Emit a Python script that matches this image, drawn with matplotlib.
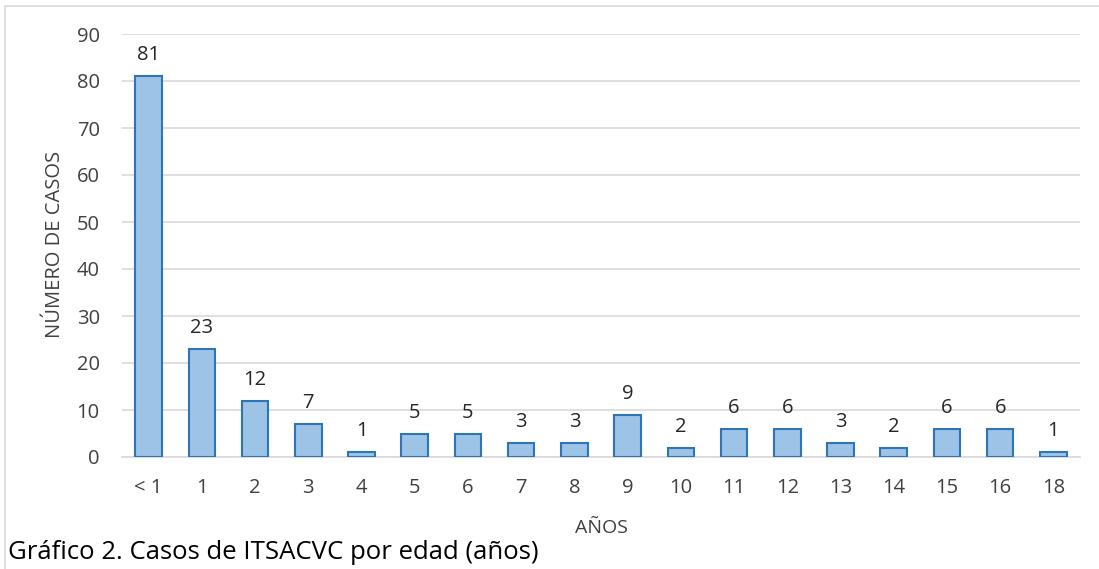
import matplotlib
matplotlib.use("Agg")
import numpy as np
import matplotlib.pyplot as plt
from matplotlib.patches import Rectangle

edades = ["< 1", "1", "2", "3", "4", "5", "6", "7", "8", "9",
          "10", "11", "12", "13", "14", "15", "16", "18"]
casos = [81, 23, 12, 7, 1, 5, 5, 3, 3, 9, 2, 6, 6, 3, 2, 6, 6, 1]

plt.rcParams["font.family"] = ["Open Sans", "DejaVu Sans"]

W, H = 1099, 569
fig = plt.figure(figsize=(W / 100, H / 100), dpi=100)
ax = fig.add_axes([122 / W, 1 - 457 / H, (1080 - 122) / W, (457 - 34) / H])

# marco del gráfico
fig.patches.append(Rectangle((5 / W, -0.1), 1.2, 1 - 5.5 / H + 0.1,
                             transform=fig.transFigure, fill=False,
                             edgecolor="#d9d9d9", linewidth=1.2))

x = np.arange(len(edades))
bars = ax.bar(x, casos, width=0.5, color="#9DC3E6", edgecolor="#2E75B6",
              linewidth=1.5, zorder=3)
for bar, v in zip(bars, casos):
    ax.annotate(str(v), (bar.get_x() + bar.get_width() / 2, v),
                xytext=(0, 16), textcoords="offset pixels",
                ha="center", va="baseline", fontsize=14.5, color="#262626")

ax.set_xlim(-0.5, len(edades) - 0.5)
ax.set_ylim(0, 90)
ax.set_yticks(range(0, 91, 10))
ax.set_xticks(x)
ax.set_xticklabels(edades)
ax.grid(axis="y", color="#d9d9d9", linewidth=1.2, zorder=0)
for s in ["top", "right", "left"]:
    ax.spines[s].set_visible(False)
ax.spines["bottom"].set_color("#d9d9d9")
ax.spines["bottom"].set_linewidth(1.2)
ax.tick_params(axis="both", length=0, labelsize=14.5, colors="#404040")
ax.tick_params(axis="y", pad=16)
ax.tick_params(axis="x", pad=15)

fig.text(55 / W, 1 - 244 / H, "NÚMERO DE CASOS", rotation=90, ha="center",
         va="center", fontsize=14.5, color="#404040")
fig.text(601 / W, 1 - 533 / H, "AÑOS", ha="center", va="baseline",
         fontsize=14, color="#404040")
fig.text(8 / W, 1 - 559 / H, "Gráfico 2. Casos de ITSACVC por edad (años)",
         ha="left", va="baseline", fontsize=18.5, color="black")

fig.savefig("out.png", dpi=100)
